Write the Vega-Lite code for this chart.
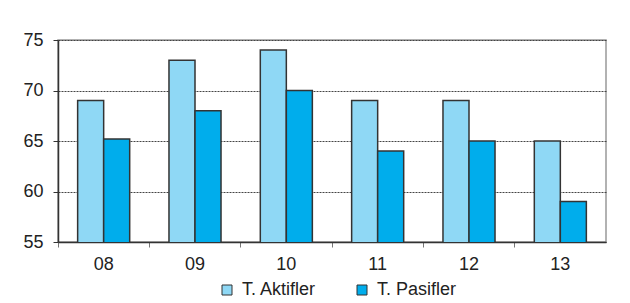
{
  "$schema": "https://vega.github.io/schema/vega-lite/v6.json",
  "width": 548,
  "height": 202,
  "autosize": {"type": "none"},
  "padding": {"left": 58, "top": 40, "right": 24, "bottom": 61},
  "background": "white",
  "config": {
    "font": "Liberation Sans",
    "view": {"stroke": "#999999", "strokeWidth": 1.5}
  },
  "data": {
    "values": [
      {"yil": "08", "seri": "T. Aktifler", "deger": 69},
      {"yil": "08", "seri": "T. Pasifler", "deger": 65.2},
      {"yil": "09", "seri": "T. Aktifler", "deger": 73},
      {"yil": "09", "seri": "T. Pasifler", "deger": 68},
      {"yil": "10", "seri": "T. Aktifler", "deger": 74},
      {"yil": "10", "seri": "T. Pasifler", "deger": 70},
      {"yil": "11", "seri": "T. Aktifler", "deger": 69},
      {"yil": "11", "seri": "T. Pasifler", "deger": 64},
      {"yil": "12", "seri": "T. Aktifler", "deger": 69},
      {"yil": "12", "seri": "T. Pasifler", "deger": 65},
      {"yil": "13", "seri": "T. Aktifler", "deger": 65},
      {"yil": "13", "seri": "T. Pasifler", "deger": 59}
    ]
  },
  "mark": {"type": "bar", "stroke": "#333333", "strokeWidth": 1.5, "clip": true},
  "encoding": {
    "x": {
      "field": "yil",
      "type": "nominal",
      "scale": {"paddingInner": 0, "paddingOuter": 0},
      "axis": {
        "title": null,
        "labelAngle": 0,
        "labelFontSize": 18,
        "labelColor": "#222222",
        "labelPadding": 8,
        "bandPosition": 0,
        "tickSize": 5,
        "tickColor": "#777777",
        "domainColor": "#333333",
        "domainWidth": 1.5
      }
    },
    "xOffset": {
      "field": "seri",
      "type": "nominal",
      "scale": {"paddingInner": 0, "paddingOuter": 0.755}
    },
    "y": {
      "field": "deger",
      "type": "quantitative",
      "scale": {"domain": [55, 75], "zero": false, "nice": false},
      "axis": {
        "title": null,
        "values": [55, 60, 65, 70, 75],
        "labelFontSize": 18,
        "labelColor": "#222222",
        "labelPadding": 10,
        "tickSize": 5,
        "tickColor": "#333333",
        "domainColor": "#333333",
        "domainWidth": 1.5,
        "grid": true,
        "gridColor": "#444444",
        "gridDash": [2, 1],
        "gridWidth": 1
      }
    },
    "fill": {
      "field": "seri",
      "type": "nominal",
      "scale": {"domain": ["T. Aktifler", "T. Pasifler"], "range": ["#8fd8f5", "#00adec"]},
      "legend": {
        "title": null,
        "orient": "none",
        "legendX": 160,
        "legendY": 241,
        "direction": "horizontal",
        "symbolType": "square",
        "symbolSize": 100,
        "symbolStrokeColor": "#333333",
        "symbolStrokeWidth": 1,
        "labelFontSize": 18,
        "labelColor": "#222222",
        "columnPadding": 36,
        "labelOffset": 6
      }
    }
  }
}
